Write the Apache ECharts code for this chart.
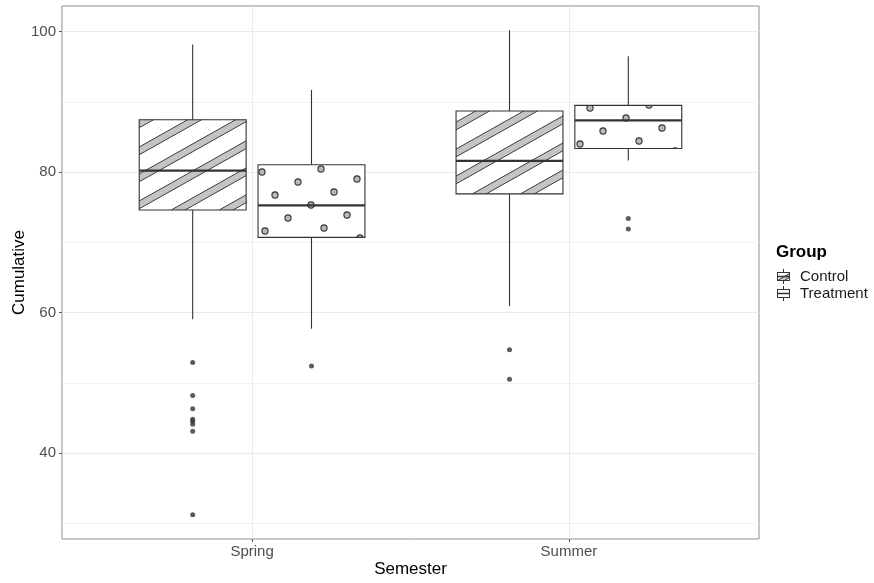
<!DOCTYPE html>
<html><head><meta charset="utf-8">
<script src="https://cdn.jsdelivr.net/npm/echarts@6/dist/echarts.min.js"></script>
<style>html,body{margin:0;padding:0;background:#fff}#chart{width:874px;height:583px}</style>
</head><body><div id="chart"></div>
<script>
// ---------------- data ----------------
const semesters = ['Spring', 'Summer'];
const groups = ['Control', 'Treatment'];
// [lower whisker, Q1, median, Q3, upper whisker] per semester
const controlStats = [[59.06, 74.6, 80.2, 87.45, 98.15], [60.9, 76.9, 81.6, 88.7, 100.2]];
const treatmentStats = [[57.7, 70.7, 75.25, 81.05, 91.7], [81.65, 83.35, 87.35, 89.5, 96.5]];
const controlOutliers = [[52.9, 48.2, 46.3, 44.8, 44.5, 44.1, 43.1, 31.2], [54.7, 50.5]];
const treatmentOutliers = [[52.4], [73.4, 71.9]];
const yTicks = [40, 60, 80, 100];
const yMinorTicks = [30, 50, 70, 90];
const xTicks = [1, 2];

// ---------------- styling ----------------
const FONT = '"Liberation Sans", Arial, Helvetica, sans-serif';
const DODGE = 0.1875, BOX_W = 0.3375;
const LINE = '#333333';
const stripePhase = [4.7, 14.7];

// axis extents like ggplot (5% expansion of data range)
const allVals = [].concat(...controlStats, ...treatmentStats, ...controlOutliers, ...treatmentOutliers);
const dMin = Math.min(...allVals), dMax = Math.max(...allVals);
const yMin = dMin - 0.05 * (dMax - dMin), yMax = dMax + 0.05 * (dMax - dMin);

// ---------------- pattern tiles ----------------
function stripeTile() {
  const W = 48, H = 27, t = 3.9, s = H / W;
  const c = document.createElement('canvas'); c.width = W; c.height = H;
  const g = c.getContext('2d');
  g.fillStyle = '#ffffff'; g.fillRect(0, 0, W, H);
  for (let k = -1; k <= 2; k++) {
    const ya = 2 * s + k * H, yb = -(W + 2) * s + k * H;
    g.beginPath(); g.moveTo(-2, ya - t); g.lineTo(W + 2, yb - t); g.lineTo(W + 2, yb + t); g.lineTo(-2, ya + t); g.closePath();
    g.fillStyle = '#c4c4c4'; g.fill();
    g.beginPath(); g.moveTo(-2, ya - t); g.lineTo(W + 2, yb - t); g.moveTo(-2, ya + t); g.lineTo(W + 2, yb + t);
    g.strokeStyle = '#3c3c3c'; g.lineWidth = 1; g.stroke();
  }
  return c;
}
function dotTile() {
  const P = 698, r = 3.1;
  const c = document.createElement('canvas'); c.width = P; c.height = P;
  const g = c.getContext('2d');
  g.fillStyle = '#ffffff'; g.fillRect(0, 0, P, P);
  g.fillStyle = '#b8b8b8'; g.strokeStyle = '#333333'; g.lineWidth = 1.1;
  for (let i = -16; i <= 26; i++) {
    for (let j = -3; j <= 39; j++) {
      const x = i * 23 + j * 13, y = -13 * i + 23 * j;
      if (x < -r - 2 || x > P + r + 2 || y < -r - 2 || y > P + r + 2) continue;
      g.beginPath(); g.arc(x, y, r, 0, Math.PI * 2); g.fill(); g.stroke();
    }
  }
  return c;
}
const STRIPES = stripeTile();
const DOTS = dotTile();

function legendIcon(kind) {
  const c = document.createElement('canvas'); c.width = 19; c.height = 15;
  const g = c.getContext('2d');
  g.strokeStyle = LINE; g.lineWidth = 1;
  g.beginPath(); g.moveTo(7.5, 0); g.lineTo(7.5, 3.5); g.moveTo(7.5, 11.5); g.lineTo(7.5, 15); g.stroke();
  g.fillStyle = '#fff'; g.fillRect(1.5, 3.5, 12, 8);
  if (kind === 'Control') {
    g.save(); g.beginPath(); g.rect(1.5, 3.5, 12, 8); g.clip();
    g.beginPath(); g.moveTo(0, 12.5); g.lineTo(15, 3.5); g.lineTo(15, 7.5); g.lineTo(0, 16.5); g.closePath();
    g.fillStyle = '#c6c6c6'; g.fill(); g.stroke();
    g.restore();
  }
  g.strokeRect(1.5, 3.5, 12, 8);
  g.lineWidth = 1.5; g.beginPath(); g.moveTo(1.5, 7.5); g.lineTo(13.5, 7.5); g.stroke();
  return c.toDataURL();
}

// ---------------- series helpers ----------------
function boxRender(offset, kind) {
  return function (params, api) {
    const x = api.value(0) + offset;
    const cx = api.coord([x, api.value(3)])[0];
    const yLo = api.coord([x, api.value(1)])[1];
    const yQ1 = api.coord([x, api.value(2)])[1];
    const yMed = api.coord([x, api.value(3)])[1];
    const yQ3 = api.coord([x, api.value(4)])[1];
    const yHi = api.coord([x, api.value(5)])[1];
    const halfW = api.size([BOX_W, 0])[0] / 2;
    let fill;
    if (kind === 'Control') {
      fill = { image: STRIPES, repeat: 'repeat', x: Math.round(cx - halfW), y: Math.round(yQ3 + stripePhase[params.dataIndex]) };
    } else {
      const anchor = api.coord([xTicks[0] + DODGE, treatmentStats[0][2]]);
      fill = { image: DOTS, repeat: 'repeat', x: Math.round(anchor[0]), y: Math.round(anchor[1]) };
    }
    return {
      type: 'group',
      children: [
        { type: 'line', shape: { x1: cx, y1: yHi, x2: cx, y2: yQ3 }, style: { stroke: LINE, lineWidth: 1.1 } },
        { type: 'line', shape: { x1: cx, y1: yQ1, x2: cx, y2: yLo }, style: { stroke: LINE, lineWidth: 1.1 } },
        { type: 'rect', shape: { x: cx - halfW, y: yQ3, width: halfW * 2, height: yQ1 - yQ3 },
          style: { fill: fill, stroke: LINE, lineWidth: 1.1 } },
        { type: 'line', shape: { x1: cx - halfW, y1: yMed, x2: cx + halfW, y2: yMed }, style: { stroke: LINE, lineWidth: 2.2 } }
      ]
    };
  };
}
function boxData(stats) { return stats.map((s, i) => [xTicks[i]].concat(s)); }
function outlierData(outs, offset) {
  const d = [];
  outs.forEach((arr, i) => arr.forEach(v => d.push([xTicks[i] + offset, v])));
  return d;
}

const chart = echarts.init(document.getElementById('chart'), null, { renderer: 'canvas' });
chart.setOption({
  animation: false,
  backgroundColor: '#ffffff',
  textStyle: { fontFamily: FONT },
  title: { text: 'Group', left: 776, top: 244, padding: 0,
    textStyle: { fontFamily: FONT, fontSize: 17, fontWeight: 'bold', color: '#000' } },
  legend: {
    orient: 'vertical', left: 776, top: 269, padding: 0, itemGap: 2,
    itemWidth: 19, itemHeight: 15,
    textStyle: { fontFamily: FONT, fontSize: 15, color: '#1a1a1a' },
    data: groups.map(g => ({ name: g, icon: 'image://' + legendIcon(g) })),
    selectedMode: false
  },
  grid: { left: 62, right: 115, top: 6, bottom: 44, containLabel: false, outerBoundsMode: 'none',
    show: true, borderColor: '#8f8f8f', borderWidth: 1, backgroundColor: '#fff' },
  xAxis: {
    type: 'value', min: 0.4, max: 2.6,
    axisLine: { show: false },
    axisTick: { show: true, length: 3, customValues: xTicks, lineStyle: { color: '#555' } },
    axisLabel: { customValues: xTicks, formatter: v => semesters[Math.round(v) - 1], color: '#4d4d4d', fontSize: 15, margin: 5, fontFamily: FONT },
    splitLine: { show: true, lineStyle: { color: '#ebebeb', width: 1 } },
    name: 'Semester', nameLocation: 'middle', nameGap: 22, nameMoveOverlap: false,
    nameTextStyle: { fontSize: 17, color: '#000', fontFamily: FONT }
  },
  yAxis: [{
    type: 'value', min: yMin, max: yMax,
    axisLine: { show: false },
    axisTick: { show: true, length: 3, customValues: yTicks, lineStyle: { color: '#555' } },
    axisLabel: { customValues: yTicks, color: '#4d4d4d', fontSize: 15, margin: 6, fontFamily: FONT },
    splitLine: { show: true, lineStyle: { color: '#ebebeb', width: 1 } },
    name: 'Cumulative', nameLocation: 'middle', nameGap: 34, nameMoveOverlap: false,
    nameTextStyle: { fontSize: 17, color: '#000', fontFamily: FONT }
  }, {
    type: 'value', min: yMin, max: yMax, position: 'left',
    axisLine: { show: false }, axisLabel: { show: false },
    axisTick: { show: false, customValues: yMinorTicks },
    splitLine: { show: true, lineStyle: { color: '#f1f1f1', width: 1 } }
  }],
  series: [
    { name: groups[0], type: 'custom', renderItem: boxRender(-DODGE, 'Control'), data: boxData(controlStats), z: 3 },
    { name: groups[1], type: 'custom', renderItem: boxRender(DODGE, 'Treatment'), data: boxData(treatmentStats), z: 3 },
    { name: 'Control outliers', type: 'scatter', symbolSize: 5, itemStyle: { color: '#333' }, data: outlierData(controlOutliers, -DODGE), z: 4 },
    { name: 'Treatment outliers', type: 'scatter', symbolSize: 5, itemStyle: { color: '#333' }, data: outlierData(treatmentOutliers, DODGE), z: 4 }
  ]
});
</script>
</body></html>
